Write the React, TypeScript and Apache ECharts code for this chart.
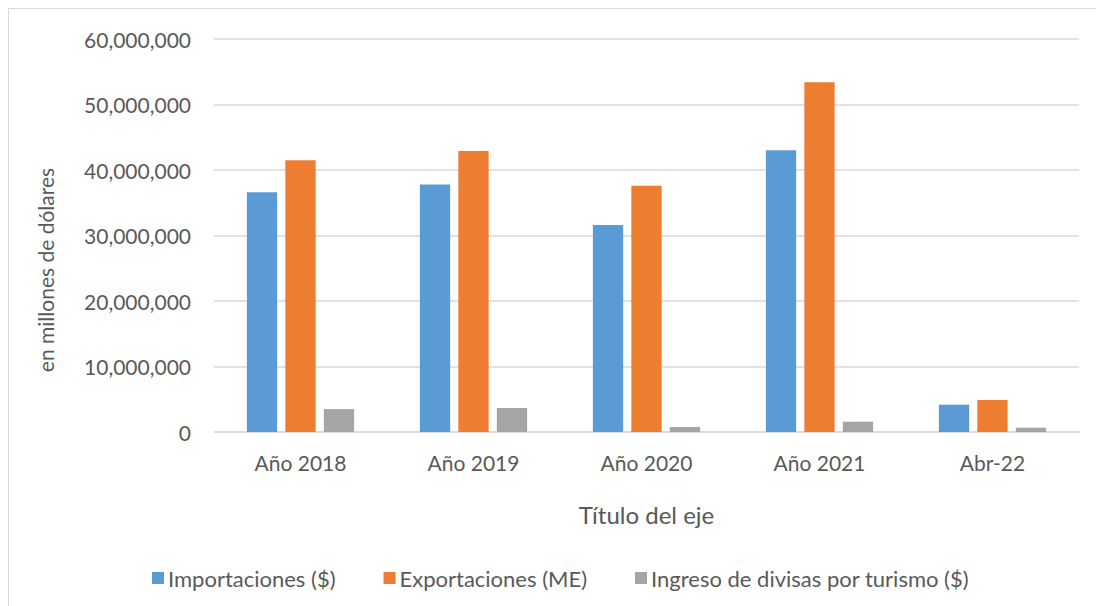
import React, { useEffect, useRef } from "react";
import * as echarts from "echarts";

const categories = ["Año 2018", "Año 2019", "Año 2020", "Año 2021", "Abr-22"];
const importaciones = [36600000, 37800000, 31600000, 43000000, 4170000];
const exportaciones = [41500000, 42900000, 37600000, 53400000, 4890000];
const turismo = [3500000, 3660000, 760000, 1570000, 660000];
const seriesNames = [
  "Importaciones ($)",
  "Exportaciones (ME)",
  "Ingreso de divisas por turismo ($)",
];
const colors = ["#5B9BD5", "#ED7D31", "#A5A5A5"];

const FONT = "Lato";
const TEXT = "#595959";

export default function App() {
  const ref = useRef<HTMLDivElement>(null);
  useEffect(() => {
    if (!ref.current) return;
    const chart = echarts.init(ref.current, undefined, { renderer: "svg" });
    const values = [importaciones, exportaciones, turismo];
    chart.setOption({
      animation: false,
      backgroundColor: "#ffffff",
      textStyle: { fontFamily: FONT },
      grid: { left: 214, right: 17, top: 39, bottom: 174, containLabel: false },
      legend: {
        left: 147,
        top: 562,
        itemWidth: 12,
        itemHeight: 12,
        itemGap: 48,
        icon: "rect",
        textStyle: { fontFamily: FONT, fontSize: 22, color: TEXT, padding: [0, 0, 0, -1] },
        data: seriesNames,
      },
      xAxis: {
        type: "category",
        data: categories,
        name: "Título del eje",
        nameLocation: "middle",
        nameGap: 70,
        nameTextStyle: { fontFamily: FONT, fontSize: 24, color: TEXT },
        axisLine: { lineStyle: { color: "#d9d9d9", width: 1.5 } },
        axisTick: { show: false },
        axisLabel: { color: TEXT, fontSize: 21, fontFamily: FONT, margin: 20 },
      },
      yAxis: {
        type: "value",
        min: 0,
        max: 60000000,
        interval: 10000000,
        axisLine: { show: false },
        axisTick: { show: false },
        splitLine: { lineStyle: { color: "#d9d9d9", width: 1.5 } },
        axisLabel: {
          color: TEXT,
          fontSize: 21,
          fontFamily: FONT,
          margin: 23,
          formatter: (v: number) => v.toLocaleString("en-US"),
        },
      },
      graphic: [
        {
          type: "rect",
          shape: { x: 8.5, y: 8.5, width: 1300, height: 800 },
          style: { fill: "none", stroke: "#d9d9d9", lineWidth: 1 },
          silent: true,
          z: -10,
        },
        {
          type: "text",
          x: 45,
          y: 270,
          rotation: Math.PI / 2,
          style: {
            text: "en millones de dólares",
            fontFamily: FONT,
            fontSize: 21,
            fill: TEXT,
            align: "center",
            verticalAlign: "middle",
          },
        },
      ],
      series: seriesNames.map((name, i) => ({
        name,
        type: "bar",
        data: values[i],
        barGap: "27%",
        barCategoryGap: "38%",
        itemStyle: { color: colors[i] },
      })),
    });
    return () => chart.dispose();
  }, []);
  return (
    <div
      ref={ref}
      style={{ position: "fixed", left: 0, top: 0, width: 1096, height: 606 }}
    />
  );
}
